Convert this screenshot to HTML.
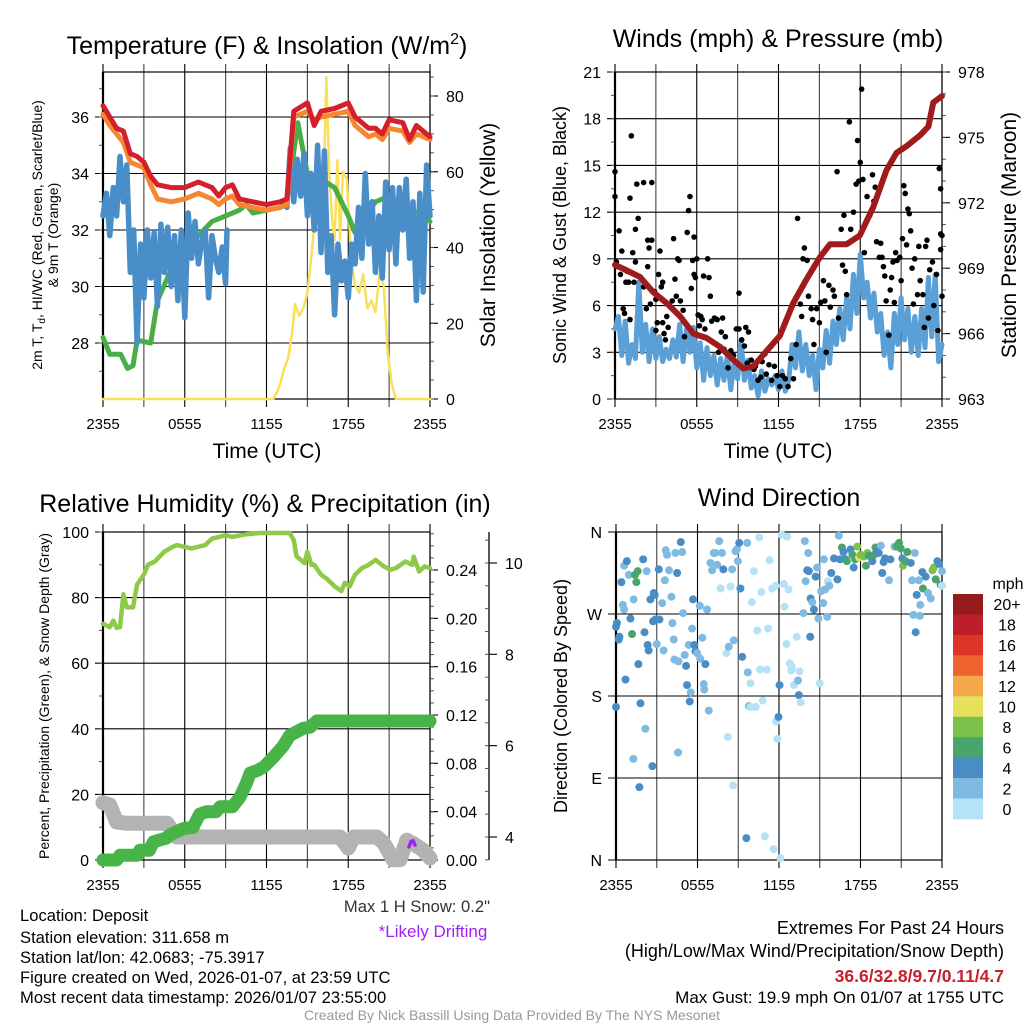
<!DOCTYPE html>
<html><head><meta charset="utf-8">
<style>
html,body{margin:0;padding:0;background:#fff;}
svg{display:block;font-family:"Liberation Sans",Arial,sans-serif;}
</style></head>
<body>
<svg id="chart" xmlns="http://www.w3.org/2000/svg" width="1024" height="1024" viewBox="0 0 1024 1024">
<rect x="0" y="0" width="1024" height="1024" fill="#fff"/>
<g id="layer"></g>
<g font-size="25" text-anchor="middle" fill="#000">
<text x="267" y="54">Temperature (F) &amp; Insolation (W/m<tspan font-size="16" dy="-10">2</tspan><tspan dy="10">)</tspan></text>
<text x="778" y="47">Winds (mph) &amp; Pressure (mb)</text>
<text x="265" y="512">Relative Humidity (%) &amp; Precipitation (in)</text>
<text x="779" y="506">Wind Direction</text>
</g>
<g fill="#000" text-anchor="middle">
<text x="267" y="458" font-size="21">Time (UTC)</text>
<text x="778" y="458" font-size="21">Time (UTC)</text>
<text transform="translate(42,235) rotate(-90)" font-size="14">2m T, T<tspan font-size="10" dy="3">d</tspan><tspan dy="-3">, HI/WC (Red, Green, Scarlet/Blue)</tspan></text>
<text transform="translate(58,235) rotate(-90)" font-size="14">&amp; 9m T (Orange)</text>
<text transform="translate(495,235) rotate(-90)" font-size="21">Solar Insolation (Yellow)</text>
<text transform="translate(566,235) rotate(-90)" font-size="18">Sonic Wind &amp; Gust (Blue, Black)</text>
<text transform="translate(1016,235) rotate(-90)" font-size="21">Station Pressure (Maroon)</text>
<text transform="translate(49,696) rotate(-90)" font-size="14">Percent, Precipitation (Green), &amp; Snow Depth (Gray)</text>
<text transform="translate(567,696) rotate(-90)" font-size="18">Direction (Colored By Speed)</text>
</g>
<g font-size="16.6" fill="#000">
<text x="490" y="912" text-anchor="end" fill="#333">Max 1 H Snow: 0.2"</text>
<text x="433" y="937" text-anchor="middle" fill="#a020f0" font-size="17">*Likely Drifting</text>
<text x="20" y="921">Location: Deposit</text>
<text x="20" y="943">Station elevation: 311.658 m</text>
<text x="20" y="963">Station lat/lon: 42.0683; -75.3917</text>
<text x="20" y="983">Figure created on Wed, 2026-01-07, at 23:59 UTC</text>
<text x="20" y="1003">Most recent data timestamp: 2026/01/07 23:55:00</text>
<text x="1004" y="934" text-anchor="end" font-size="18">Extremes For Past 24 Hours</text>
<text x="1004" y="957" text-anchor="end" font-size="18">(High/Low/Max Wind/Precipitation/Snow Depth)</text>
<text x="1004" y="982" text-anchor="end" font-size="17.5" font-weight="bold" fill="#c8202a">36.6/32.8/9.7/0.11/4.7</text>
<text x="1004" y="1003" text-anchor="end" font-size="17">Max Gust: 19.9 mph On 01/07 at 1755 UTC</text>
<text x="512" y="1020" text-anchor="middle" font-size="14" fill="#999">Created By Nick Bassill Using Data Provided By The NYS Mesonet</text>
</g>
</svg>
<script>
// ---------- data ----------
const timeLabels = ["2355","0555","1155","1755","2355"];
const tempHours = [0,0.5,1,1.5,2,2.5,3,3.5,4,5,6,7,8,8.5,9,9.5,10,11,12,13,13.5,14,15,15.5,16,17,18,18.5,19.5,20,20.5,21,22,22.5,23,24];
const tempRed = [36.4,36.0,35.6,35.5,34.7,34.6,34.4,33.9,33.6,33.5,33.5,33.7,33.5,33.2,33.5,33.6,33.1,33.0,32.9,33.0,33.1,36.2,36.5,35.7,36.2,36.3,36.5,36.0,35.6,35.6,35.4,35.9,35.8,35.2,35.7,35.3];
const temp9m = [36.1,35.7,35.4,35.1,34.4,34.3,34.2,33.6,33.1,33.0,33.1,33.3,33.1,32.9,33.1,33.2,32.9,32.8,32.7,32.8,32.9,36.0,36.2,35.9,36.0,36.1,36.2,35.7,35.3,35.4,35.2,35.6,35.5,35.1,35.4,35.2];
const dewHours = [0,0.5,1.3,1.8,2.2,2.5,3.5,4,5,6,7,8,9,10,10.5,11,12,13,13.5,14.3,15,16,17,18,18.5,19,20,21,22,23.5,24];
const dewVals = [28.2,27.6,27.6,27.1,27.2,28.1,28.0,29.5,30.6,31.3,31.8,32.3,32.5,32.7,32.9,32.6,32.7,32.8,33.0,35.8,34.0,33.8,33.5,32.5,31.9,32.3,33.0,33.2,32.9,32.5,32.3];
const wcHours = [0,0.25,0.5,0.75,1,1.25,1.5,1.75,2,2.25,2.5,2.75,3,3.25,3.5,3.75,4,4.25,4.5,4.75,5,5.25,5.5,5.75,6,6.25,6.5,6.75,7,7.25,7.5,7.75,8,8.25,8.5,8.75,9,9.1,null,13.5,13.75,14,14.25,14.5,14.75,15,15.25,15.5,15.75,16,16.25,16.5,16.75,17,17.25,17.5,17.75,18,18.25,18.5,18.75,19,19.25,19.5,19.75,20,20.25,20.5,20.75,21,21.25,21.5,21.75,22,22.25,22.5,22.75,23,23.25,23.5,23.75,24];
const wcVals = [32.5,33.3,31.8,33.5,32.5,34.6,33.0,34.3,30.5,32.0,28.0,31.5,29.6,32.0,30.3,31.9,29.3,32.2,30.5,32.1,30.0,31.8,29.5,32.0,28.9,32.6,31.0,32.3,30.8,31.6,32.0,29.6,31.8,31.0,30.5,31.4,30.1,32.0,null,32.8,34.9,33.0,34.5,33.2,34.7,32.5,34.0,32.0,35.0,31.2,34.8,30.5,31.8,29.0,31.5,30.2,30.9,29.6,31.5,30.8,32.8,31.0,34.0,31.5,33.0,30.5,32.5,30.3,33.7,31.3,33.5,30.8,33.5,32.0,33.8,31.0,33.0,29.5,33.3,29.8,34.3,32.5];
const solarHours = [0,12.5,12.8,13,13.3,13.6,13.9,14.1,14.4,14.7,15,15.3,15.5,15.8,16,16.2,16.4,16.6,16.8,17,17.2,17.4,17.6,17.9,18.2,18.5,18.8,19.1,19.4,19.7,20,20.3,20.6,20.9,21.2,21.5,24];
const solarVals = [0,0,2,4,8,11,18,25,22,24,28,38,46,50,62,58,85,60,48,42,63,42,60,58,38,30,28,33,24,26,23,33,30,12,4,0,0];
const tempTicks = [28,30,32,34,36];
const solarTicks = [0,20,40,60,80];

const windHours = [0,0.25,0.5,0.75,1,1.25,1.5,1.75,2,2.25,2.5,2.75,3,3.25,3.5,3.75,4,4.25,4.5,4.75,5,5.25,5.5,5.75,6,6.25,6.5,6.75,7,7.25,7.5,7.75,8,8.25,8.5,8.75,9,9.25,9.5,9.75,10,10.25,10.5,10.75,11,11.25,11.5,11.75,12,12.25,12.5,12.75,13,13.25,13.5,13.75,14,14.25,14.5,14.75,15,15.25,15.5,15.75,16,16.25,16.5,16.75,17,17.25,17.5,17.75,18,18.25,18.5,18.75,19,19.25,19.5,19.75,20,20.25,20.5,20.75,21,21.25,21.5,21.75,22,22.25,22.5,22.75,23,23.25,23.5,23.75,24];
const windVals = [4.5,5.3,2.8,5.0,2.3,3.5,2.6,7.5,3.0,4.8,2.4,4.5,2.6,4.0,2.4,3.2,2.6,3.8,2.7,4.8,2.4,4.5,3.0,4.6,2.0,3.6,1.2,3.3,1.5,2.8,0.9,2.6,1.2,2.8,0.6,2.4,1.3,3.8,1.2,2.5,0.7,1.5,0.2,1.8,0.5,1.3,0.9,1.5,0.6,1.8,0.5,1.2,3.5,2.0,4.3,1.8,3.5,1.5,2.8,0.6,3.2,2.0,4.4,2.3,5.0,3.5,5.8,3.8,6.5,4.5,8.0,5.5,9.3,6.5,7.5,5.2,6.8,4.3,5.5,2.8,4.3,2.0,5.5,3.5,6.5,3.8,5.8,3.0,5.3,2.8,5.8,3.3,7.8,4.0,8.0,2.4,3.5];
const pressHours = [0,0.86,1.83,2.81,3.79,4.77,5.75,6.72,7.7,8.68,9.42,10.15,11.13,12.1,13.08,14.06,15.04,15.78,17.0,17.97,18.95,19.93,20.67,21.4,22.4,23.0,23.36,24];
const pressVals = [969.15,968.9,968.6,967.9,967.4,966.8,966.0,965.8,965.4,964.8,964.4,964.5,965.2,965.9,967.4,968.5,969.5,970.1,970.1,970.5,971.8,973.5,974.3,974.6,975.1,975.5,976.6,976.9];
const gustHours = [0,0,0.1,0.2,0.3,0.4,0.5,0.6,0.7,0.8,0.9,1.0,1.1,1.1,1.2,1.3,1.4,1.5,1.5,1.6,1.7,1.9,2.1,2.1,2.3,2.4,2.4,2.5,2.6,2.7,2.7,2.9,3.0,3.0,3.1,3.2,3.3,3.4,3.5,3.5,3.6,3.7,3.8,3.9,4.0,4.2,4.3,4.4,4.5,4.6,4.7,4.8,5.0,5.1,5.3,5.4,5.5,5.6,5.7,5.8,5.8,5.9,6.0,6.1,6.2,6.3,6.4,6.5,6.6,6.8,6.9,7.0,7.1,7.3,7.5,7.6,7.8,7.9,8.0,8.1,8.3,8.5,8.7,8.9,9.1,9.1,9.3,9.5,9.6,9.7,9.8,10.0,10.2,10.3,10.5,10.7,10.8,11.0,11.1,11.3,11.5,11.7,11.9,12.1,12.3,12.5,12.7,12.9,13.1,13.3,13.4,13.6,13.7,13.8,13.9,14.1,14.2,14.4,14.5,14.6,14.8,15.0,15.1,15.3,15.4,15.5,15.7,15.8,16.0,16.1,16.3,16.4,16.6,16.7,16.8,16.9,17.0,17.2,17.3,17.5,17.7,17.8,17.9,18.0,18.1,18.2,18.3,18.5,18.7,18.9,19.0,19.1,19.2,19.4,19.5,19.6,19.7,19.8,19.9,20.1,20.2,20.3,20.4,20.5,20.6,20.7,20.9,21.0,21.1,21.2,21.3,21.4,21.5,21.6,21.7,21.8,21.9,22.0,22.2,22.3,22.4,22.6,22.7,22.8,22.9,23.0,23.1,23.3,23.4,23.6,23.7,23.8,23.9,24.0,24.0,23.9,23.9];
const gustVals = [13,14.6,8.8,8.5,10.8,8,9.5,5.8,5.5,7.5,8.2,7.5,5.1,12.9,16.9,9.4,7.5,8.8,10.9,13.8,11.6,7.8,7.2,13.9,5.8,8.5,10.2,9.7,6.1,10.2,13.9,6.9,6.4,4.4,4.9,8.0,9.5,7.2,7.5,4.9,4.2,3.8,5.3,4.6,6.0,6.3,10.3,7.7,6.6,9.0,8.9,6.3,5.7,4.0,10.7,12.1,13.0,7.1,8.9,8.0,10.4,7.8,9.0,5.4,4.7,5.3,5.1,7.9,4.5,9.0,7.8,6.6,5.0,5.2,5.1,3.0,4.3,5.2,3.2,4.0,2.0,3.1,2.8,4.5,6.8,4.5,3.8,3.4,4.6,2.3,4.3,2.5,1.9,2.1,1.2,1.4,2.4,2.9,1.6,2.2,1.2,2.1,1.5,0.8,1.5,1.3,0.8,2.6,1.3,3.5,11.6,6.1,5.3,9.0,9.7,8.9,6.6,5.8,5.1,3.5,5.8,4.9,6.2,7.6,6.3,3.0,7.3,5.9,7.0,6.6,14.6,5.2,10.9,8.6,11.8,8.2,6.7,17.8,10.9,12.0,13.8,16.6,14.0,15.2,19.9,14.1,9.4,13.0,11.8,14.4,12.7,13.6,10.1,9.1,10.0,9.1,8.5,7.9,6.3,4.1,7.0,7.8,8.8,6.2,9.4,8.9,9.1,7.6,10.3,13.7,13.2,9.9,12.2,11.9,10.8,8.4,6.1,9.0,6.7,9.8,7.6,6.7,4.6,9.8,10.2,5.2,8.3,8.8,6.0,8.0,4.4,14.8,13.5,10.5,6.6,9.6,10.6];
const windTicks = [0,3,6,9,12,15,18,21];
const pressTicks = [963,966,969,972,975,978];

const rhHours = [0,0.5,0.76,1.0,1.25,1.5,1.75,2.2,2.5,3.0,3.3,3.8,4.5,4.9,5.4,6.5,7.5,8.0,8.8,9.0,9.5,10.5,11.5,13.7,14.0,14.2,14.8,15.0,15.3,15.5,16.0,16.5,17.0,17.5,17.75,18.1,18.5,19.0,19.5,20.0,20.6,21.1,21.5,22.2,22.7,22.8,23.2,23.6,24];
const rhVals = [72,71,73,70.8,71,81,77,77,84,87,90,91,94,95,96,95,96,98,98.8,99,98.5,99.3,99.7,99.7,97.5,92.6,90.5,94,90,90,87,85.5,83.4,82,84.5,83.4,87,89,90,91.5,89.5,88.5,89,91,90,92.5,88,89.5,89];
const precipHours = [0,1,1.25,2.5,2.7,3.4,3.7,4.6,5.1,5.9,6.6,7.1,7.6,8.3,8.6,9.5,10.05,10.5,10.8,11.3,11.8,12.5,13.2,13.7,14.2,14.7,15.2,15.7,24];
const precipVals = [0,0,0.004,0.004,0.008,0.008,0.015,0.018,0.022,0.026,0.027,0.038,0.040,0.040,0.044,0.044,0.052,0.063,0.072,0.074,0.077,0.085,0.094,0.103,0.106,0.109,0.110,0.115,0.115];
const snowHours = [0,0.5,1.0,1.75,4.7,5.4,17.4,18.0,18.4,20.1,20.6,21.3,21.8,22.3,22.8,23.5,24];
const snowVals = [4.75,4.7,4.33,4.3,4.3,4.0,4.0,3.76,4.0,4.0,3.87,3.5,3.5,3.93,3.85,3.71,3.54];
const driftHours = [22.45,22.6,22.75,22.9];
const driftVals = [3.78,3.9,3.92,3.82];
const rhTicks = [0,20,40,60,80,100];
const precipTicks = [0,0.04,0.08,0.12,0.16,0.20,0.24];
const precipTickLabels = ["0.00","0.04","0.08","0.12","0.16","0.20","0.24"];
const snowTicks = [4,6,8,10];

const dirHours = [0,0.07,0.2,0.25,0,0.4,0.5,0.6,0.6,0.8,0.95,1.06,0.7,1.18,1.4,1.6,1.5,1.3,1.65,1.28,1.72,1.8,2.0,2.1,2.16,2.26,2.33,2.4,2.53,2.68,2.78,2.85,2.73,2.9,3.0,3.15,3.2,3.4,3.5,3.66,3.76,3.9,3.6,4.08,4.15,4.25,4.3,4.37,4.5,4.6,4.57,4.77,4.87,4.94,5.06,5.16,5.23,5.36,5.43,5.5,5.6,5.67,5.77,5.85,5.97,6.17,6.2,6.36,6.46,6.5,6.58,6.7,6.83,6.95,7.07,7.2,7.3,7.44,7.6,7.7,7.8,7.9,8.13,8.23,8.3,8.43,8.55,8.62,8.67,8.8,8.9,9.07,8.97,9.16,9.29,9.6,9.66,9.7,9.78,9.9,9.9,10.0,10.15,10.28,10.4,10.54,10.6,10.7,10.8,10.96,11.1,11.2,11.3,11.5,11.6,11.75,11.8,11.87,11.96,12.04,12.1,12.2,12.36,12.4,12.55,12.6,12.7,12.8,12.9,12.95,13.1,13.3,13.4,13.46,13.5,13.6,13.8,13.9,13.96,14.08,14.15,14.2,14.3,14.33,14.45,14.57,14.7,14.8,14.9,15.0,15.1,15.26,15.3,15.4,15.55,15.6,15.7,15.85,16.05,16.3,16.4,16.5,16.63,16.75,16.9,17.0,17.27,17.4,17.5,17.6,17.77,17.9,18.0,18.25,18.5,18.6,18.4,18.87,19.0,19.1,19.2,19.35,19.5,19.6,19.7,19.8,20.1,20.2,20.5,20.66,20.84,20.96,21.08,21.13,21.33,21.45,21.7,21.8,21.9,22.0,22.06,22.14,22.3,22.37,22.4,22.55,22.6,22.8,22.97,23.17,23.3,23.4,23.54,23.66,23.78,23.9,24.0,24.05];
const dirVals = [256,260,242,245,168,305,280,275,323,328,313,265,198,248,313,317,305,286,215,111,80,172,330,250,144,317,236,230,286,103,293,291,262,264,237,319,264,282,230,340,335,318,307,289,260,242,220,337,315,218,118,349,338,271,225,213,192,236,174,184,254,286,236,229,227,279,221,244,193,187,215,275,164,326,318,337,337,324,350,298,337,319,227,135,234,300,319,82,241,339,341,348,328,298,223,24,348,206,169,194,168,283,317,168,252,354,209,294,175,26,209,254,329,298,12,301,152,133,157,192,2,357,303,278,237,355,297,216,208,212,192,245,197,181,207,173,271,350,306,318,337,317,245,287,283,275,311,321,265,194,295,282,330,297,267,306,301,315,331,308,356,330,343,338,330,328,341,335,321,330,344,332,335,333,337,334,323,328,335,343,339,337,345,315,327,331,307,330,344,344,348,342,331,323,328,338,326,307,269,337,250,291,307,268,280,316,298,311,293,287,318,321,308,328,325,302,317,301];
const dirSpeeds = [5,5,5,5,5,5,3,3,3,5,3,5,5,7,7,7,7,3,5,3,5,5,5,5,3,3,5,5,5,5,5,5,5,5,3,5,5,3,3,3,3,3,3,3,3,3,3,3,5,3,3,5,3,3,3,5,5,3,5,3,3,5,5,5,3,3,3,3,3,3,5,3,3,3,3,3,3,3,3,1,3,5,1,1,3,1,3,1,3,3,3,5,3,5,5,5,3,3,3,1,1,1,1,1,1,1,1,1,1,1,1,1,1,1,1,1,1,1,5,5,1,1,1,1,1,1,1,1,1,1,1,1,3,5,1,1,3,3,3,5,3,5,5,5,3,5,5,3,3,1,3,3,3,3,3,1,3,5,5,5,3,5,7,5,5,7,5,7,5,7,9,11,9,9,9,7,7,5,7,7,5,5,3,5,5,5,3,5,3,7,7,7,5,9,7,7,5,3,3,3,5,5,3,3,3,5,7,5,3,3,9,9,7,5,5,5,3];
const dirTicks = [0,90,180,270,360];
const dirTickLabels = ["N","E","S","W","N"];
const speedBins = [0,2,4,6,8,10,12,14,16,18,20];
const speedBinLabels = ["0","2","4","6","8","10","12","14","16","18","20+"];
const speedColors = ["#b6e2f7","#7fbae3","#4a8dc5","#4aa56c","#7cc24a","#e6e05c","#f5a84a","#ee6330","#dd3527","#bd1e27","#941a1c"];

// ---------- axes ----------
const NS = "http://www.w3.org/2000/svg";
const layer = document.getElementById('layer');
function mk(tag, attrs, parent) { const e = document.createElementNS(NS, tag); for (const k in attrs) e.setAttribute(k, attrs[k]); (parent || layer).appendChild(e); return e; }
function txt(x, y, s, size, anchor, parent) { const t = mk('text', {x: x, y: y, 'font-size': size, 'text-anchor': anchor, fill: '#000'}, parent); t.textContent = s; return t; }

const P = {
  tl: {x0: 103, x1: 430, y0: 72, y1: 399},
  tr: {x0: 615, x1: 942, y0: 72, y1: 399},
  bl: {x0: 103, x1: 430, y0: 532, y1: 860},
  br: {x0: 616, x1: 942, y0: 532, y1: 860}
};
function xf(p, h) { return p.x0 + h * (p.x1 - p.x0) / 24; }
const yTemp = t => 343 - (t - 28) * 28.25;
const ySolar = s => 399 - s * 3.7875;
const yWind = v => 399 - v * 15.571;
const yPress = p => 399 - (p - 963) * 21.8;
const yRH = r => 860 - r * 3.28;
const yPrecip = i => 860 - i * 1208.3;
const ySnow = d => 837 - (d - 4) * 45.67;
const yDir = d => 860 - d * 0.9111;

function path(p, hs, vs, yfn) {
  let d = '', pen = false;
  for (let i = 0; i < hs.length; i++) {
    if (hs[i] === null || vs[i] === null) { pen = false; continue; }
    d += (pen ? 'L' : 'M') + xf(p, hs[i]).toFixed(1) + ',' + yfn(vs[i]).toFixed(1);
    pen = true;
  }
  return d;
}

function frame(p, name, leftTicks, leftLabels, yfn, rightTicks, rightLabels, yfn2, minorL, minorR) {
  const g = mk('g', {});
  
  
  for (let k = 0; k <= 8; k++) {
    const x = p.x0 + k * (p.x1 - p.x0) / 8;
    const gl = mk('line', {x1: x, y1: p.y0 - 8, x2: x, y2: p.y1 + 8, stroke: k % 2 ? '#444' : '#000', 'stroke-width': 1.1}, g);
    
    
  }
  for (let k = 0; k < timeLabels.length; k++) {
    const t = txt(p.x0 + k * (p.x1 - p.x0) / 4, p.y1 + 30, timeLabels[k], 15, 'middle', g);
    
    
  }
  leftTicks.forEach((v, i) => {
    const y = yfn(v);
    const gl = mk('line', {x1: p.x0 - 8, y1: y, x2: p.x1, y2: y, stroke: '#000', 'stroke-width': 1.1}, g);
    
    
    const t = txt(p.x0 - 14, y + 6, leftLabels[i], 16, 'end', g);
    
    
  });
  (minorL || []).forEach(v => {
    const y = yfn(v);
    const m = mk('line', {x1: p.x0 - 4, y1: y, x2: p.x0, y2: y, stroke: '#555', 'stroke-width': 1}, g);
    
    
  });
  if (rightTicks) {
    rightTicks.forEach((v, i) => {
      const y = yfn2(v);
      const m = mk('line', {x1: p.x1, y1: y, x2: p.x1 + 8, y2: y, stroke: '#000', 'stroke-width': 1.1}, g);
      
      
      const t = txt(p.x1 + 16, y + 6, rightLabels[i], 16, 'start', g);
      
      
    });
    (minorR || []).forEach(v => {
      const y = yfn2(v);
      const m = mk('line', {x1: p.x1, y1: y, x2: p.x1 + 4, y2: y, stroke: '#555', 'stroke-width': 1}, g);
      
      
    });
  }
  const r = mk('rect', {x: p.x0, y: p.y0, width: p.x1 - p.x0, height: p.y1 - p.y0, fill: 'none', stroke: '#000', 'stroke-width': 1.2}, g);
  
  
  const l = mk('line', {x1: p.x0, y1: p.y0, x2: p.x0, y2: p.y1, stroke: '#000', 'stroke-width': 2.2}, g);
  
  
}

function range(a, b, s) { const r = []; for (let v = a; v <= b + 1e-9; v += s) r.push(+v.toFixed(4)); return r; }

frame(P.tl, 'temperature', tempTicks, tempTicks.map(String), yTemp, solarTicks, solarTicks.map(String), ySolar, range(27, 37, 1), range(0, 85, 5));
frame(P.tr, 'wind', windTicks, windTicks.map(String), yWind, pressTicks, pressTicks.map(String), yPress, range(0, 21, 1.5), range(963, 978, 1));
frame(P.bl, 'humidity', rhTicks, rhTicks.map(String), yRH, precipTicks, precipTickLabels, yPrecip, range(0, 100, 10), range(0, 0.27, 0.01));
frame(P.br, 'direction', dirTicks, dirTickLabels, yDir, null, null, null, [], []);

const sx = 489;
const sa = mk('line', {x1: sx, y1: 532, x2: sx, y2: 860, stroke: '#000', 'stroke-width': 1.3});


snowTicks.forEach(v => {
  const y = ySnow(v);
  const t1 = mk('line', {x1: sx, y1: y, x2: sx + 8, y2: y, stroke: '#000', 'stroke-width': 1.1});
  
  
  const t = txt(sx + 16, y + 6, String(v), 16, 'start');
  
  
});
range(3.5, 10.5, 0.5).forEach(v => {
  const y = ySnow(v);
  const m = mk('line', {x1: sx - 4, y1: y, x2: sx, y2: y, stroke: '#555', 'stroke-width': 1});
  
  
});

// ---------- series ----------
function line(p, hs, vs, yfn, color, w, name) {
  const e = mk('path', {d: path(p, hs, vs, yfn), fill: 'none', stroke: color, 'stroke-width': w, 'stroke-linejoin': 'round', 'stroke-linecap': 'round'});
  
  
  return e;
}
line(P.tl, solarHours, solarVals, ySolar, '#f8e05a', 2.5, 'solar-insolation-line');
line(P.tl, dewHours, dewVals, yTemp, '#4aae46', 5, 'dewpoint-line');
line(P.tl, wcHours, wcVals, yTemp, '#4a8ec9', 5.5, 'wind-chill-line');
line(P.tl, tempHours, temp9m, yTemp, '#f68732', 5, 'temp-9m-line');
line(P.tl, tempHours, tempRed, yTemp, '#d4202a', 5, 'temp-2m-line');

line(P.tr, windHours, windVals, yWind, '#5a9fd6', 5, 'sonic-wind-line');
gustHours.forEach((h, i) => {
  const c = mk('circle', {cx: xf(P.tr, h), cy: yWind(gustVals[i]), r: 2.8, fill: '#000'});
  
  
});
line(P.tr, pressHours, pressVals, yPress, '#a01c1c', 6, 'pressure-line');

line(P.bl, snowHours, snowVals, ySnow, '#b3b3b3', 15, 'snow-depth-line');
line(P.bl, precipHours, precipVals, yPrecip, '#48b447', 13, 'precip-line');
line(P.bl, rhHours, rhVals, yRH, '#8ec947', 4.5, 'rh-line');
line(P.bl, driftHours, driftVals, ySnow, '#a020f0', 3.5, 'drifting-marker');

function speedColor(s) { let k = 0; for (let i = 0; i < speedBins.length; i++) if (s >= speedBins[i]) k = i; return speedColors[k]; }
dirHours.forEach((h, i) => {
  const c = mk('circle', {cx: xf(P.br, Math.min(24, h)), cy: yDir(dirVals[i]), r: 4, fill: speedColor(dirSpeeds[i])});
  
  
});

const cb = mk('g', {});


const cbTitle = txt(1008, 589, 'mph', 16, 'middle', cb);


const boxH = (819 - 594) / speedColors.length;
for (let i = 0; i < speedColors.length; i++) {
  const idx = speedColors.length - 1 - i;
  const r = mk('rect', {x: 953, y: 594 + i * boxH, width: 30, height: boxH + 0.3, fill: speedColors[idx]}, cb);
  
  
  const t = txt(1007, 594 + i * boxH + boxH / 2 + 6, speedBinLabels[idx], 16, 'middle', cb);
  
  
}
</script>
</body></html>
